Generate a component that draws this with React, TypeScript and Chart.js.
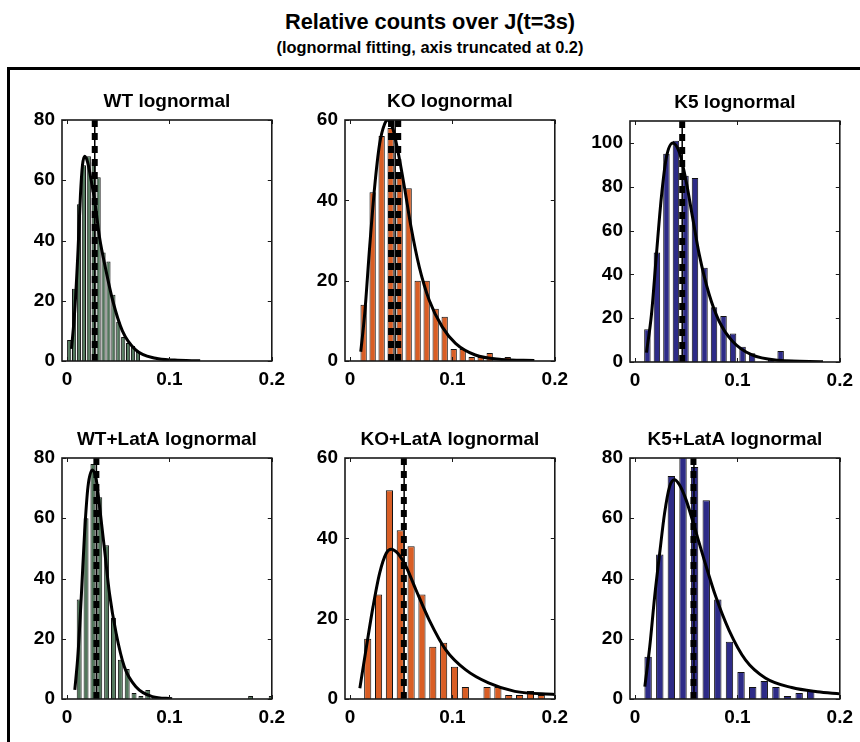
import React, { useEffect, useRef } from "react";
import { Chart, registerables } from "chart.js";

Chart.register(...registerables);

// ---------------- data ----------------
const mainTitle = "Relative counts over J(t=3s)";
const subTitle = "(lognormal fitting, axis truncated at 0.2)";

const xTicks = [0, 0.1, 0.2];
const xTickLabels = ["0", "0.1", "0.2"];
const yTicks80 = [0, 20, 40, 60, 80];
const yTicks60 = [0, 20, 40, 60];
const yTicks110 = [0, 20, 40, 60, 80, 100];

// WT
const wtBins = [0.002, 0.0068, 0.0116, 0.0164, 0.0212, 0.026, 0.0308, 0.0356, 0.0404, 0.0452, 0.05, 0.0548, 0.0596, 0.0644, 0.0692];
const wtCounts = [7, 24, 52, 65, 68, 66, 61, 36, 33, 22, 13, 8, 6, 5, 3];
const wtFitX = [0.0043, 0.0075, 0.0107, 0.013, 0.015, 0.0172, 0.02, 0.0235, 0.027, 0.0317, 0.038, 0.0446, 0.054, 0.067, 0.0865, 0.105, 0.13];
const wtFitY = [4, 17, 37, 55, 65, 68, 66, 60, 53, 41, 30, 20, 10, 3.7, 0.9, 0.3, 0.05];
const wtDashed = [0.027];
const wtSolid = [0.027];

// KO
const koBins = [0.0132, 0.022, 0.0308, 0.0396, 0.0484, 0.0572, 0.066, 0.0748, 0.0836, 0.0924, 0.1012, 0.11, 0.1188, 0.1276, 0.1364, 0.1452, 0.154];
const koCounts = [14, 42, 56, 58, 46, 43, 20, 20, 13, 11, 3, 3, 1, 1, 2, 0, 1];
const koFitX = [0.0104, 0.0143, 0.0191, 0.024, 0.0288, 0.0337, 0.0369, 0.0417, 0.0465, 0.053, 0.0595, 0.0675, 0.0772, 0.09, 0.103, 0.1223, 0.148, 0.18];
const koFitY = [2.3, 11.9, 28.4, 43.4, 54, 59, 60, 57.9, 52.5, 43.4, 33.4, 23.5, 15.2, 8.5, 4.4, 1.5, 0.4, 0.1];
const koDashed = [0.04, 0.047];
const koSolid = [0.044];

// K5
const k5Bins = [0.012, 0.0213, 0.0306, 0.0399, 0.0492, 0.0585, 0.0678, 0.0771, 0.0864, 0.0957, 0.105, 0.1143, 0.1236, 0.1329, 0.1422, 0.1515];
const k5Counts = [15, 50, 95, 101, 85, 84, 43, 25, 21, 13, 7, 4, 0, 1, 5, 1];
const k5FitX = [0.0111, 0.016, 0.0208, 0.0256, 0.0305, 0.0369, 0.0433, 0.0498, 0.0562, 0.0627, 0.0723, 0.082, 0.0949, 0.1142, 0.14, 0.1836];
const k5FitY = [4.3, 21.8, 49, 75, 93.3, 100, 95.6, 82.6, 65.9, 49, 30.9, 18.7, 9.6, 3.2, 0.8, 0.1];
const k5Dashed = [0.046];
const k5Solid = [0.046];

// WT+LatA
const wtLatBins = [0.0118, 0.0185, 0.0252, 0.0319, 0.0386, 0.0453, 0.052, 0.0587, 0.0654, 0.0721, 0.0788, 0.0855, 0.0922, 0.0989, 0.1056, 0.1123, 0.119, 0.1257, 0.1324, 0.1391, 0.1458, 0.1525, 0.1592, 0.1659, 0.1726, 0.1793, 0.186, 0.1927, 0.1994];
const wtLatCounts = [33, 60, 78, 67, 51, 27, 13, 10, 2, 1, 3, 1, 0, 0, 0, 0, 0, 0, 0, 0, 0, 0, 0, 0, 0, 1, 0, 0, 1];
const wtLatFitX = [0.0075, 0.0107, 0.014, 0.0172, 0.0204, 0.0247, 0.0285, 0.0317, 0.0366, 0.0414, 0.0479, 0.0559, 0.0672, 0.0833, 0.1026];
const wtLatFitY = [3, 15.2, 35, 56, 70.5, 76, 72.8, 63.9, 49.5, 35, 21.8, 10.7, 4.1, 0.8, 0.1];
const wtLatDashed = [0.0286];
const wtLatSolid = [0.0286];

// KO+LatA
const koLatBins = [0.0172, 0.0278, 0.0384, 0.049, 0.0596, 0.0702, 0.0808, 0.0914, 0.102, 0.1126, 0.1232, 0.1338, 0.1444, 0.155, 0.1656, 0.1762, 0.1868];
const koLatCounts = [15, 26, 52, 42, 38, 26, 13, 14, 8, 3, 0, 3, 3, 1, 1, 2, 1];
const koLatFitX = [0.0095, 0.016, 0.0224, 0.0288, 0.0353, 0.0401, 0.0465, 0.0546, 0.0643, 0.0772, 0.0933, 0.1127, 0.1352, 0.161, 0.2];
const koLatFitY = [2.7, 13.1, 23, 31.3, 36.3, 37.3, 36.3, 33, 27.2, 19.7, 12.3, 7.3, 4, 1.9, 1.1];
const koLatDashed = [0.0525];
const koLatSolid = [0.0528];

// K5+LatA
const k5LatBins = [0.0127, 0.0241, 0.0354, 0.0468, 0.0581, 0.0695, 0.0808, 0.0922, 0.1035, 0.1149, 0.1262, 0.1376, 0.1489, 0.1603, 0.1716];
const k5LatCounts = [14, 48, 74, 82, 77, 66, 33, 19, 9, 4, 6, 4, 1, 2, 3];
const k5LatFitX = [0.0095, 0.0143, 0.0191, 0.024, 0.0288, 0.0337, 0.0385, 0.0433, 0.0498, 0.0578, 0.0675, 0.0788, 0.0917, 0.1078, 0.1272, 0.153, 0.178, 0.2];
const k5LatFitY = [4.1, 17.4, 34, 48.4, 61.7, 70.5, 72.8, 71.1, 66.1, 57.3, 46.2, 34, 22.9, 13, 7, 3.8, 2.4, 1.7];
const k5LatDashed = [0.057];
const k5LatSolid = [0.0575];

// ---------------- styles / layout ----------------
const GREEN = "rgb(82,120,92)";
const ORANGE = "rgb(217,94,37)";
const BLUE = "rgb(45,43,135)";
const FONT = "'Liberation Sans', Arial, sans-serif";

const AREA_W = 212;
const AREA_H = 241;
const Y_AXIS_W = 55;
const X_AXIS_H = 30;
const TITLE_H = 42;
const PAD_R = 18;

type Panel = {
  title: string;
  bins: number[];
  counts: number[];
  fitX: number[];
  fitY: number[];
  dashed: number[];
  solid: number[];
  color: string;
  barPct: number;
  yMax: number;
  yTicks: number[];
  areaLeft: number;
  areaTop: number;
};

const panels: Panel[] = [
  { title: "WT lognormal", bins: wtBins, counts: wtCounts, fitX: wtFitX, fitY: wtFitY, dashed: wtDashed, solid: wtSolid, color: GREEN, barPct: 0.85, yMax: 80, yTicks: yTicks80, areaLeft: 62, areaTop: 120 },
  { title: "KO lognormal", bins: koBins, counts: koCounts, fitX: koFitX, fitY: koFitY, dashed: koDashed, solid: koSolid, color: ORANGE, barPct: 0.7, yMax: 60, yTicks: yTicks60, areaLeft: 345, areaTop: 120 },
  { title: "K5 lognormal", bins: k5Bins, counts: k5Counts, fitX: k5FitX, fitY: k5FitY, dashed: k5Dashed, solid: k5Solid, color: BLUE, barPct: 0.68, yMax: 110, yTicks: yTicks110, areaLeft: 630, areaTop: 121 },
  { title: "WT+LatA lognormal", bins: wtLatBins, counts: wtLatCounts, fitX: wtLatFitX, fitY: wtLatFitY, dashed: wtLatDashed, solid: wtLatSolid, color: GREEN, barPct: 0.72, yMax: 80, yTicks: yTicks80, areaLeft: 62, areaTop: 458 },
  { title: "KO+LatA lognormal", bins: koLatBins, counts: koLatCounts, fitX: koLatFitX, fitY: koLatFitY, dashed: koLatDashed, solid: koLatSolid, color: ORANGE, barPct: 0.66, yMax: 60, yTicks: yTicks60, areaLeft: 345, areaTop: 458 },
  { title: "K5+LatA lognormal", bins: k5LatBins, counts: k5LatCounts, fitX: k5LatFitX, fitY: k5LatFitY, dashed: k5LatDashed, solid: k5LatSolid, color: BLUE, barPct: 0.64, yMax: 80, yTicks: yTicks80, areaLeft: 630, areaTop: 458 },
];

const axesBoxPlugin = {
  id: "axesBox",
  afterDatasetsDraw(chart: any) {
    const { ctx, chartArea } = chart;
    const { left, right, top, bottom } = chartArea;
    const xs = chart.scales.x;
    const ys = chart.scales.y;
    ctx.save();
    ctx.strokeStyle = "#1a1a1a";
    ctx.lineWidth = 1;
    const tl = 4;
    ctx.beginPath();
    xs.ticks.forEach((t: any) => {
      const px = Math.round(xs.getPixelForValue(t.value)) + 0.5;
      ctx.moveTo(px, bottom);
      ctx.lineTo(px, bottom - tl);
      ctx.moveTo(px, top);
      ctx.lineTo(px, top + tl);
    });
    ys.ticks.forEach((t: any) => {
      const py = Math.round(ys.getPixelForValue(t.value)) + 0.5;
      ctx.moveTo(left, py);
      ctx.lineTo(left + tl, py);
      ctx.moveTo(right, py);
      ctx.lineTo(right - tl, py);
    });
    ctx.stroke();
    ctx.lineWidth = 1.6;
    ctx.strokeRect(left, top, right - left, bottom - top);
    ctx.restore();
  },
};

function PanelChart({ p }: { p: Panel }) {
  const ref = useRef<HTMLCanvasElement | null>(null);
  useEffect(() => {
    if (!ref.current) return;
    const tickFont = { family: FONT, size: 19, weight: "bold" as const };
    const vLine = (v: number, width: number, dash: number[]) => ({
      type: "line" as const,
      data: [
        { x: v, y: 0 },
        { x: v, y: p.yMax },
      ],
      borderColor: "#000",
      borderWidth: width,
      borderDash: dash,
      borderCapStyle: "butt" as const,
      pointRadius: 0,
      order: 1,
      clip: 0,
    });
    const chart = new Chart(ref.current, {
      type: "bar",
      data: {
        datasets: [
          {
            type: "line",
            data: p.fitX.map((x, i) => ({ x, y: p.fitY[i] })),
            borderColor: "#000",
            borderWidth: 3,
            pointRadius: 0,
            cubicInterpolationMode: "monotone",
            order: 0,
            clip: 0,
          } as any,
          ...p.solid.map((v) => vLine(v, 1.5, [])),
          ...p.dashed.map((v) => vLine(v, 6, [7, 6])),
          {
            type: "bar",
            data: p.bins.map((x, i) => ({ x, y: p.counts[i] })),
            backgroundColor: p.color,
            borderColor: "#111",
            borderWidth: 1,
            barPercentage: p.barPct,
            categoryPercentage: 1,
            order: 3,
            clip: 0,
          } as any,
        ],
      },
      options: {
        animation: false,
        responsive: false,
        events: [],
        layout: { padding: { left: 0, right: PAD_R, top: 0, bottom: 0 } },
        plugins: {
          legend: { display: false },
          tooltip: { enabled: false },
          title: {
            display: true,
            text: p.title,
            fullSize: false,
            color: "#000",
            font: { family: FONT, size: 19, weight: "bold" },
            padding: { top: 12, bottom: TITLE_H - 12 - 19 * 1.2 },
          },
        },
        scales: {
          x: {
            type: "linear",
            min: -0.005,
            max: 0.2,
            offset: false,
            grid: { display: false, drawTicks: false },
            border: { display: false },
            afterBuildTicks: (s: any) => {
              s.ticks = xTicks.map((v) => ({ value: v }));
            },
            afterFit: (s: any) => {
              s.height = X_AXIS_H;
            },
            ticks: {
              autoSkip: false,
              maxRotation: 0,
              color: "#000",
              font: tickFont,
              padding: 7,
              callback: (v: any) => {
                const i = xTicks.indexOf(Number(v));
                return i >= 0 ? xTickLabels[i] : "";
              },
            },
          },
          y: {
            type: "linear",
            min: 0,
            max: p.yMax,
            grid: { display: false, drawTicks: false },
            border: { display: false },
            afterBuildTicks: (s: any) => {
              s.ticks = p.yTicks.map((v) => ({ value: v }));
            },
            afterFit: (s: any) => {
              s.width = Y_AXIS_W;
            },
            ticks: {
              autoSkip: false,
              color: "#000",
              font: tickFont,
              padding: 7,
              callback: (v: any) => String(v),
            },
          },
        },
      } as any,
      plugins: [axesBoxPlugin],
    });
    return () => chart.destroy();
  }, [p]);

  const w = Y_AXIS_W + AREA_W + PAD_R;
  const h = TITLE_H + AREA_H + X_AXIS_H;
  return (
    <canvas
      ref={ref}
      width={w}
      height={h}
      style={{
        position: "absolute",
        left: p.areaLeft - Y_AXIS_W,
        top: p.areaTop - TITLE_H,
        width: w,
        height: h,
      }}
    />
  );
}

export default function App() {
  return (
    <div
      style={{
        position: "absolute",
        left: 0,
        top: 0,
        width: 860,
        height: 742,
        overflow: "hidden",
        background: "#fff",
        fontFamily: FONT,
      }}
    >
      <div
        style={{
          position: "absolute",
          left: 0,
          top: 10,
          width: 860,
          textAlign: "center",
          fontWeight: "bold",
          fontSize: 21.8,
          lineHeight: "24px",
          color: "#000",
        }}
      >
        {mainTitle}
      </div>
      <div
        style={{
          position: "absolute",
          left: 0,
          top: 37,
          width: 860,
          textAlign: "center",
          fontWeight: "bold",
          fontSize: 16.4,
          lineHeight: "20px",
          color: "#000",
        }}
      >
        {subTitle}
      </div>
      <div
        style={{
          position: "absolute",
          left: 7,
          top: 67,
          width: 900,
          height: 800,
          borderLeft: "3px solid #000",
          borderTop: "3px solid #000",
        }}
      />
      {panels.map((p) => (
        <PanelChart key={p.title} p={p} />
      ))}
    </div>
  );
}
